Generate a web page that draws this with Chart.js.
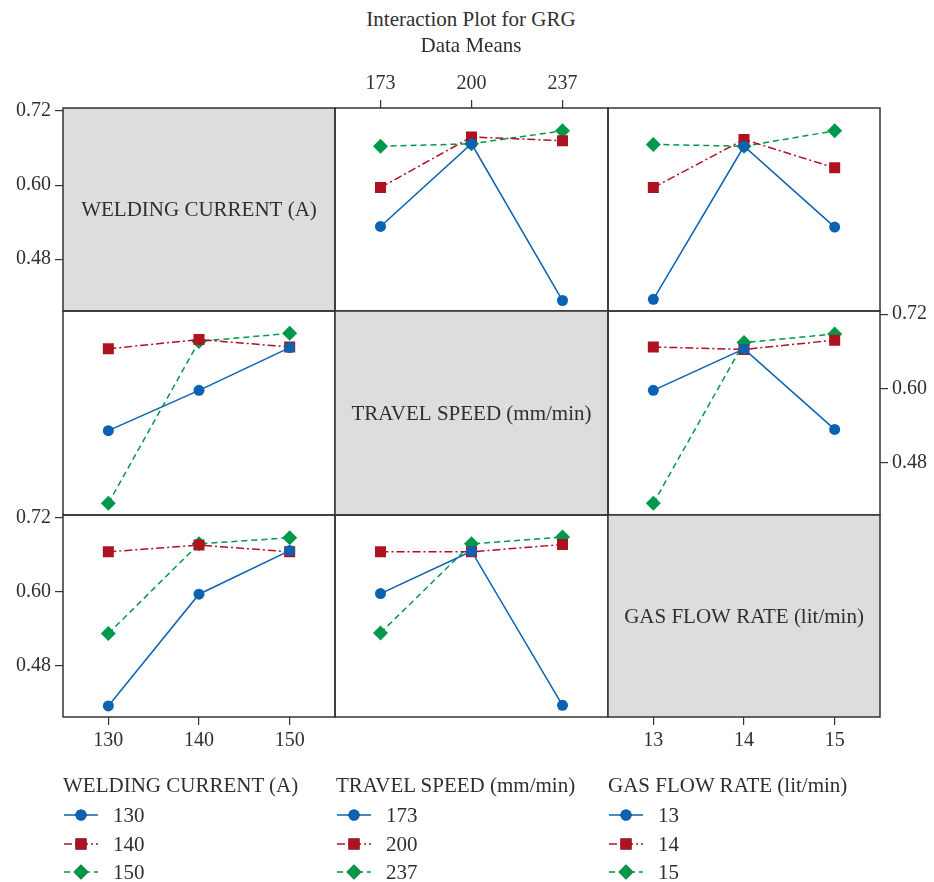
<!DOCTYPE html>
<html>
<head>
<meta charset="utf-8">
<script src="https://cdn.jsdelivr.net/npm/chart.js@4.4.1/dist/chart.umd.min.js"></script>
<style>
  body { margin: 0; background: #fff; }
  #page { position: relative; width: 934px; height: 882px; overflow: hidden; font-family: "Liberation Serif", "DejaVu Serif", serif; color: #2f2f2f; }
  #page canvas { position: absolute; }
  .txt { position: absolute; white-space: nowrap; font-size: 21px; line-height: 24px; }
</style>
</head>
<body>
<div id="page"></div>
<script>
// factor levels (categories)
const currentLevels = ['130', '140', '150'];
const speedLevels = ['173', '200', '237'];
const gasLevels = ['13', '14', '15'];
const yTickValues = [0.48, 0.60, 0.72];

// row 1: lines = welding current levels
const speedCurrent130 = [0.533, 0.667, 0.413];
const speedCurrent140 = [0.596, 0.678, 0.672];
const speedCurrent150 = [0.663, 0.667, 0.688];
const gasCurrent130 = [0.415, 0.663, 0.532];
const gasCurrent140 = [0.596, 0.674, 0.628];
const gasCurrent150 = [0.666, 0.663, 0.688];

// row 2: lines = travel speed levels
const currentSpeed173 = [0.532, 0.597, 0.666];
const currentSpeed200 = [0.664, 0.679, 0.667];
const currentSpeed237 = [0.415, 0.676, 0.689];
const gasSpeed173 = [0.597, 0.664, 0.534];
const gasSpeed200 = [0.667, 0.663, 0.678];
const gasSpeed237 = [0.415, 0.674, 0.688];

// row 3: lines = gas flow rate levels
const currentGas13 = [0.414, 0.596, 0.667];
const currentGas14 = [0.665, 0.676, 0.665];
const currentGas15 = [0.532, 0.678, 0.688];
const speedGas13 = [0.597, 0.666, 0.415];
const speedGas14 = [0.665, 0.665, 0.677];
const speedGas15 = [0.533, 0.678, 0.689];

const yMin = 0.396, yMax = 0.725;

const colors = ['#0a62b2', '#ae1220', '#00984a'];
const dashes = [[], [8, 3, 2, 3], [6, 4]];
const shapes = ['circle', 'rect', 'rectRot'];
const radii = [5.5, 7.8, 7.5];

const colX = [63, 335, 608], colW = [272, 273, 272];
const rowY = [108, 311, 515], rowH = [203, 204, 202];
const M = 60;
const tickFont = { family: 'Liberation Serif', size: 20 };

const panels = [
  { r: 0, c: 0, gray: 'WELDING CURRENT (A)', labels: currentLevels, yAxis: 'left' },
  { r: 0, c: 1, labels: speedLevels, series: [speedCurrent130, speedCurrent140, speedCurrent150], xAxis: 'top' },
  { r: 0, c: 2, labels: gasLevels, series: [gasCurrent130, gasCurrent140, gasCurrent150] },
  { r: 1, c: 0, labels: currentLevels, series: [currentSpeed173, currentSpeed200, currentSpeed237] },
  { r: 1, c: 1, gray: 'TRAVEL SPEED (mm/min)', labels: speedLevels },
  { r: 1, c: 2, labels: gasLevels, series: [gasSpeed173, gasSpeed200, gasSpeed237], yAxis: 'right' },
  { r: 2, c: 0, labels: currentLevels, series: [currentGas13, currentGas14, currentGas15], yAxis: 'left', xAxis: 'bottom' },
  { r: 2, c: 1, labels: speedLevels, series: [speedGas13, speedGas14, speedGas15] },
  { r: 2, c: 2, gray: 'GAS FLOW RATE (lit/min)', labels: gasLevels, xAxis: 'bottom' }
];

// panel background, frame and factor name
const framePlugin = {
  id: 'frame',
  beforeDraw(chart, args, opts) {
    const a = chart.chartArea, ctx = chart.ctx;
    if (opts.gray) {
      ctx.save();
      ctx.fillStyle = '#dcdddd';
      ctx.fillRect(a.left, a.top, a.right - a.left, a.bottom - a.top);
      ctx.fillStyle = '#2f2f2f';
      ctx.font = '21px "Liberation Serif"';
      ctx.textAlign = 'center';
      ctx.textBaseline = 'middle';
      ctx.fillText(opts.gray, (a.left + a.right) / 2, (a.top + a.bottom) / 2 + 1);
      ctx.restore();
    }
  },
  afterDraw(chart) {
    const a = chart.chartArea, ctx = chart.ctx;
    ctx.save();
    ctx.strokeStyle = '#333';
    ctx.lineWidth = 1.5;
    ctx.strokeRect(a.left, a.top, a.right - a.left, a.bottom - a.top);
    ctx.restore();
  }
};

const page = document.getElementById('page');

panels.forEach(p => {
  const cv = document.createElement('canvas');
  const w = colW[p.c] + 2 * M, h = rowH[p.r] + 2 * M;
  cv.width = w; cv.height = h;
  cv.style.left = (colX[p.c] - M) + 'px';
  cv.style.top = (rowY[p.r] - M) + 'px';
  page.appendChild(cv);

  const datasets = (p.series || []).map((s, i) => ({
    data: s,
    borderColor: colors[i],
    backgroundColor: colors[i],
    borderWidth: 1.5,
    borderDash: dashes[i],
    pointStyle: shapes[i],
    pointRadius: radii[i],
    pointBorderWidth: 0,
    tension: 0
  }));

  const axisGrid = { display: true, drawOnChartArea: false, drawTicks: true, tickLength: 8, color: '#333', lineWidth: 1.2 };

  const xScale = {
    type: 'category',
    offset: true,
    display: !!p.xAxis,
    position: p.xAxis || 'bottom',
    grid: axisGrid,
    border: { display: false },
    ticks: { font: tickFont, color: '#2f2f2f', padding: 4, maxRotation: 0 }
  };
  if (p.xAxis) xScale.afterFit = s => { s.height = M; };

  const yScale = {
    type: 'linear',
    min: yMin,
    max: yMax,
    display: !!p.yAxis,
    position: p.yAxis || 'left',
    grid: axisGrid,
    border: { display: false },
    afterBuildTicks: s => { s.ticks = yTickValues.map(v => ({ value: v })); },
    ticks: { font: tickFont, color: '#2f2f2f', padding: 4, callback: v => v.toFixed(2) }
  };
  if (p.yAxis) yScale.afterFit = s => { s.width = M; };

  new Chart(cv, {
    type: 'line',
    data: { labels: p.labels, datasets: datasets },
    options: {
      responsive: false,
      animation: false,
      layout: {
        padding: {
          left: p.yAxis === 'left' ? 0 : M,
          right: p.yAxis === 'right' ? 0 : M,
          top: p.xAxis === 'top' ? 0 : M,
          bottom: p.xAxis === 'bottom' ? 0 : M
        }
      },
      plugins: {
        legend: { display: false },
        tooltip: { enabled: false },
        frame: { gray: p.gray }
      },
      scales: { x: xScale, y: yScale }
    },
    plugins: [framePlugin]
  });
});

function addText(str, x, yc, align) {
  const d = document.createElement('div');
  d.className = 'txt';
  d.textContent = str;
  d.style.top = (yc - 12) + 'px';
  if (align === 'center') {
    d.style.left = (x - 300) + 'px';
    d.style.width = '600px';
    d.style.textAlign = 'center';
  } else {
    d.style.left = x + 'px';
  }
  page.appendChild(d);
}

addText('Interaction Plot for GRG', 471, 19, 'center');
addText('Data Means', 471, 45, 'center');

// legend
const legendGroups = [
  { title: 'WELDING CURRENT (A)', items: currentLevels, x: 63 },
  { title: 'TRAVEL SPEED (mm/min)', items: speedLevels, x: 336 },
  { title: 'GAS FLOW RATE (lit/min)', items: gasLevels, x: 608 }
];
const legendRows = [815, 844, 872];

legendGroups.forEach(g => {
  addText(g.title, g.x, 785);
  g.items.forEach((lab, i) => {
    const cv = document.createElement('canvas');
    cv.width = 36; cv.height = 18;
    cv.style.left = g.x + 'px';
    cv.style.top = (legendRows[i] - 9) + 'px';
    page.appendChild(cv);
    const ctx = cv.getContext('2d');
    ctx.strokeStyle = colors[i];
    ctx.globalAlpha = 0.75;
    ctx.lineWidth = 2;
    ctx.setLineDash(dashes[i]);
    ctx.beginPath(); ctx.moveTo(1, 9); ctx.lineTo(35, 9); ctx.stroke();
    ctx.globalAlpha = 1;
    ctx.setLineDash([]);
    Chart.helpers.drawPoint(ctx, { pointStyle: shapes[i], radius: radii[i], borderWidth: 0 }, 18, 9);
    ctx.fillStyle = colors[i];
    ctx.fill();
    addText(lab, g.x + 50, legendRows[i]);
  });
});
</script>
</body>
</html>
